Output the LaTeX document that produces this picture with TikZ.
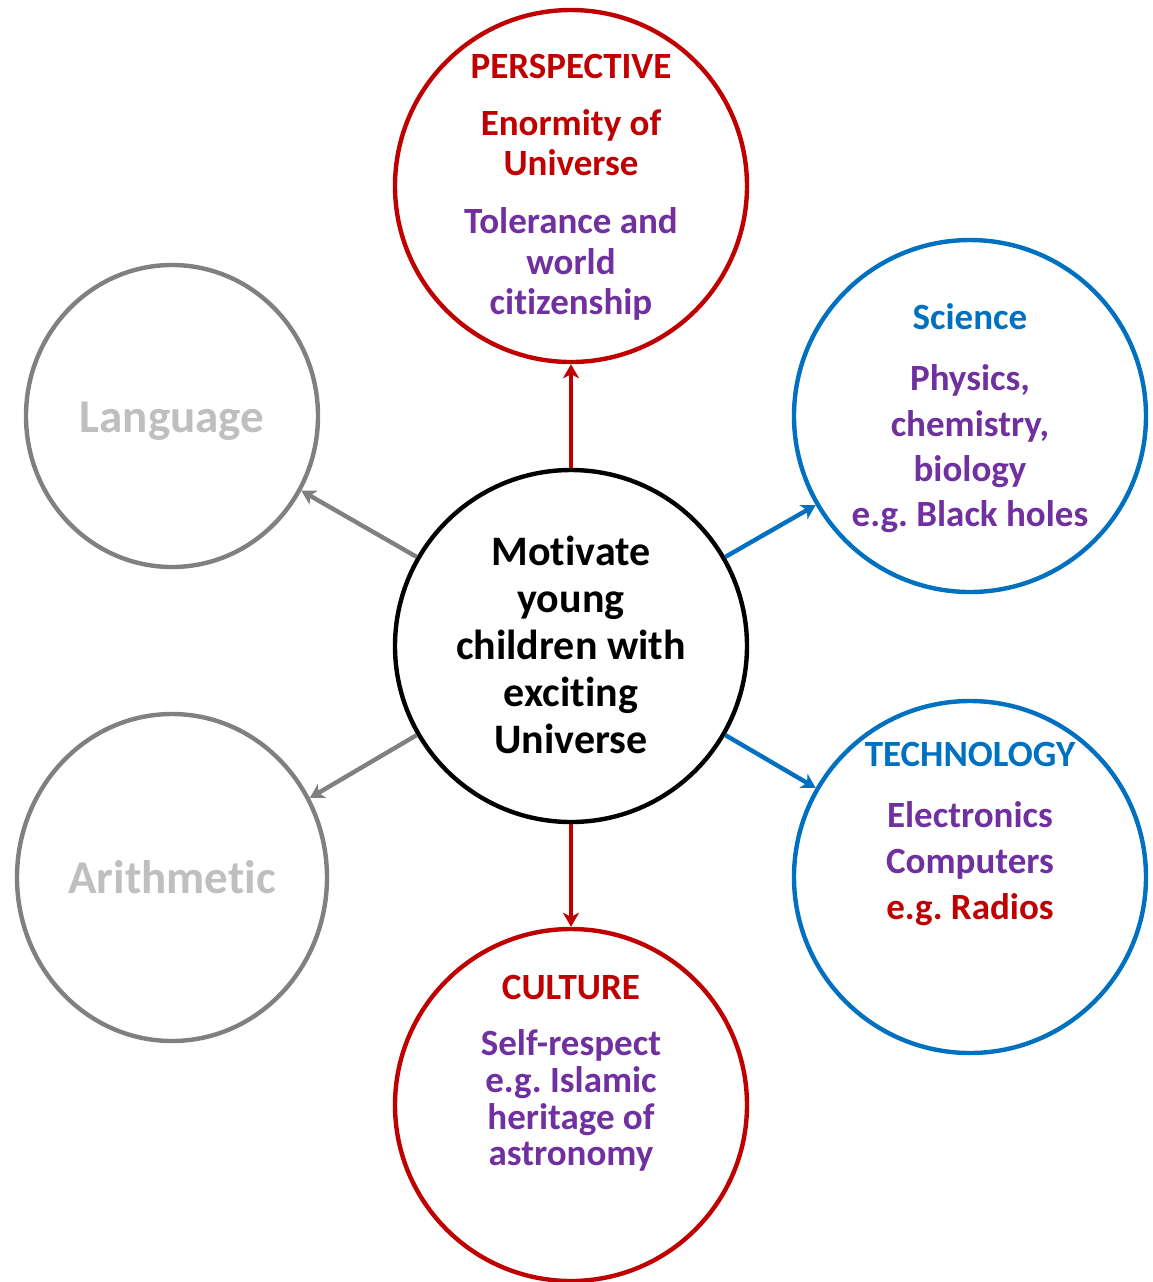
\documentclass[tikz,border=0pt]{standalone}
\usepackage{fontspec}
\setmainfont{Carlito}[RawFeature={-liga;-clig;-rlig;-calt;-dlig}]
\usetikzlibrary{arrows.meta,shapes.geometric}
\definecolor{cred}{HTML}{C00000}
\definecolor{cblue}{HTML}{0070C0}
\definecolor{cpurple}{HTML}{7030A0}
\definecolor{cgray}{HTML}{808080}
\definecolor{clight}{HTML}{BFBFBF}
\frenchspacing
\begin{document}
\begin{tikzpicture}[x=0.5pt,y=-0.5pt,
  circ/.style={circle,draw,line width=2.2pt,inner sep=0pt,minimum size=#1},
  oval/.style={ellipse,draw=cgray,line width=2.2pt,inner sep=0pt},
  lbl/.style={anchor=base,inner sep=0pt,font=\bfseries\fontsize{18.5}{22}\selectfont},
  big/.style={anchor=base,inner sep=0pt,font=\bfseries\fontsize{21}{25}\selectfont},
  huge/.style={anchor=base,inner sep=0pt,font=\bfseries\fontsize{23.5}{28}\selectfont,text=clight},
  conn/.style={line width=2.2pt,-{Stealth[length=7pt,width=8pt,inset=2pt]}}]
\useasboundingbox (0,0) rectangle (1153,1282);
\fill[white] (0,0) rectangle (1153,1282);

% circles
\node[circ=176pt,draw=black] (ctr) at (571,646) {};
\node[circ=176pt,draw=cred] (persp) at (571,186) {};
\node[circ=176pt,draw=cblue] (sci) at (970,416) {};
\node[circ=176pt,draw=cblue] (tech) at (970,877) {};
\node[circ=176pt,draw=cred] (cult) at (571,1105) {};
\node[oval,minimum width=146pt,minimum height=151pt] (lang) at (172,416) {};
\node[oval,minimum width=155pt,minimum height=163.5pt] (arith) at (172,877.5) {};

% connectors
\draw[conn,cred] (ctr.north) -- (persp.south);
\draw[conn,cred] (ctr.south) -- (cult.north);
\draw[conn,cblue] (ctr.30) -- (sci.210);
\draw[conn,cblue] (ctr.-30) -- (tech.150);
\draw[conn,cgray] (ctr.150) -- (lang.-30);
\draw[conn,cgray] (ctr.210) -- (arith.30);

% center text
\node[big] (c1) at (571,565) {Mot\kern0pt ivate};
\node[big] (c2) at (571,612) {young};
\node[big] (c3) at (571,659) {children with};
\node[big] (c4) at (571,706) {excit\kern0pt ing};
\node[big] (c5) at (571,753) {Universe};

% perspective
\node[lbl,text=cred] (p0) at (571,78) {PERSPECTIVE};
\node[lbl,text=cred] (p1) at (571,135) {Enormity of};
\node[lbl,text=cred] (p2) at (571,175) {Universe};
\node[lbl,text=cpurple] (p3) at (571,233) {Tolerance and};
\node[lbl,text=cpurple] (p4) at (571,274) {world};
\node[lbl,text=cpurple] (p5) at (571,314) {cit\kern0pt izenship};

% science
\node[lbl,text=cblue] (s0) at (970,329) {Science};
\node[lbl,text=cpurple] (s1) at (970,390) {Physics,};
\node[lbl,text=cpurple] (s2) at (970,436) {chemistry,};
\node[lbl,text=cpurple] (s3) at (970,481) {biology};
\node[lbl,text=cpurple] (s4) at (970,526) {e.g. Black holes};

% technology
\node[lbl,text=cblue] (t0) at (970,766) {TECHNOLOGY};
\node[lbl,text=cpurple] (t1) at (970,827) {Electronics};
\node[lbl,text=cpurple] (t2) at (970,873) {Computers};
\node[lbl,text=cred] (t3) at (970,919) {e.g. Radios};

% culture
\node[lbl,text=cred] (u0) at (571,999) {CULTURE};
\node[lbl,text=cpurple] (u1) at (571,1055) {Self-respect};
\node[lbl,text=cpurple] (u2) at (571,1092) {e.g. Islamic};
\node[lbl,text=cpurple] (u3) at (571,1129) {heritage of};
\node[lbl,text=cpurple] (u4) at (571,1165) {astronomy};

% gray
\node[huge] (l1) at (172,432) {Language};
\node[huge] (a1) at (172,893) {Arit\kern0pt hmet\kern0pt ic};
\end{tikzpicture}
\end{document}
